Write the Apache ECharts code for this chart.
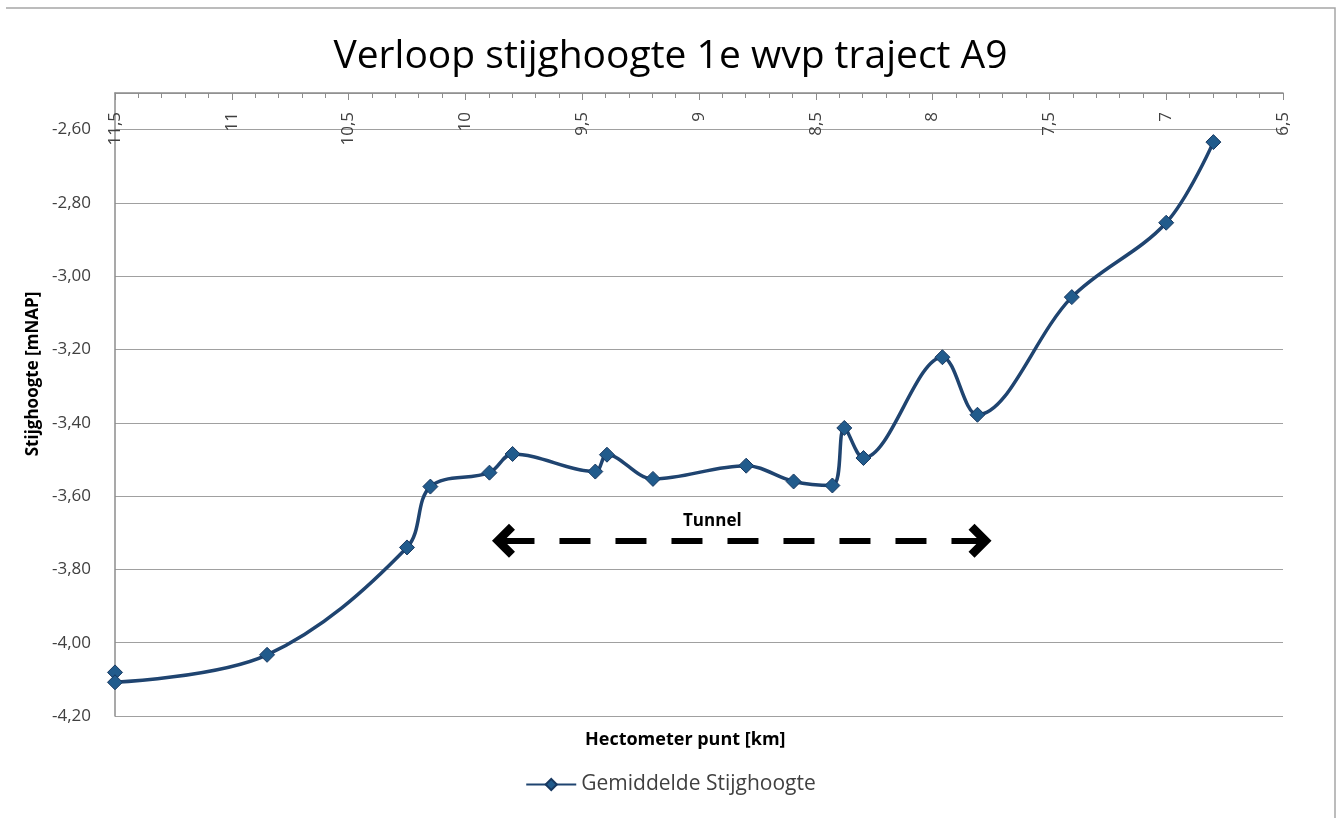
<!DOCTYPE html>
<html>
<head>
    <meta http-equiv="Content-Type" content="text/html; charset=UTF-8">
    <script type="text/javascript" src="https://cdn.jsdelivr.net/npm/echarts@6/dist/echarts.min.js" charset="utf-8"></script>
    <style>
        html, body { margin: 0; padding: 0; background: #fff; }
    </style>
</head>
<body>
<div id="main" style="width: 1341px;height:818px;"></div>
<script>
    // hectometer (km) en gemiddelde stijghoogte (mNAP)
    var hectometer = [11.5, 11.5, 10.849, 10.25, 10.15, 9.897, 9.798, 9.444, 9.394, 9.197,
        8.798, 8.595, 8.429, 8.378, 8.296, 7.958, 7.808, 7.404, 7.0, 6.798];
    var stijghoogte = [-4.081, -4.108, -4.033, -3.740, -3.574, -3.536, -3.485, -3.533, -3.487, -3.553,
        -3.517, -3.560, -3.571, -3.414, -3.496, -3.221, -3.378, -3.057, -2.854, -2.634];
    var tunnelVan = [9.837, -3.722];
    var tunnelTot = [7.797, -3.722];
    var tunnelLabel = [8.943, -3.668];

    var punten = [];
    for (var i = 0; i < hectometer.length; i++) {
        punten.push([hectometer[i], stijghoogte[i]]);
    }

    var font = "'Open Sans', 'DejaVu Sans', sans-serif";
    // pijlpunt (wijst naar boven, echarts draait hem mee met de lijn)
    var pijl = 'path://M17,0 L34,17 L28,23 L17,12 L6,23 L0,17 Z';

    var myChart = echarts.init(document.getElementById('main'));
    myChart.setOption({
        animation: false,
        title: [{
            text: 'Verloop stijghoogte 1e wvp traject A9',
            left: 'center',
            top: 32,
            textStyle: { fontFamily: font, fontSize: 39, fontWeight: 'normal', color: '#000' }
        }, {
            text: 'Hectometer punt [km]',
            left: 580,
            top: 726,
            textStyle: { fontFamily: font, fontSize: 18, fontWeight: 'bold', color: '#000' }
        }],
        graphic: [{
            type: 'text',
            x: 33,
            y: 374,
            rotation: Math.PI / 2,
            style: {
                text: 'Stijghoogte [mNAP]',
                font: 'bold 17px ' + font,
                fill: '#000',
                align: 'center',
                verticalAlign: 'middle'
            }
        }, {
            type: 'polyline',
            shape: { points: [[6, 8], [1335, 8], [1335, 818]] },
            style: { stroke: '#a6a6a6', lineWidth: 1.5, fill: null }
        }],
        legend: {
            bottom: 18,
            left: 'center',
            itemWidth: 50,
            itemHeight: 14,
            itemGap: 4,
            data: ['Gemiddelde Stijghoogte'],
            textStyle: { fontFamily: font, fontSize: 21, color: '#404040' }
        },
        grid: {
            left: 115,
            right: 58,
            top: 93,
            bottom: 102
        },
        xAxis: {
            type: 'value',
            position: 'top',
            inverse: true,
            min: 6.5,
            max: 11.5,
            interval: 0.5,
            axisLine: { lineStyle: { color: '#8c8c8c', width: 1.5 } },
            axisTick: { show: true, inside: true, length: 7, lineStyle: { color: '#8c8c8c' } },
            minorTick: { show: true, splitNumber: 5, length: 5, lineStyle: { color: '#8c8c8c' } },
            axisLabel: {
                inside: true,
                rotate: -90,
                margin: 19,
                align: 'right',
                verticalAlign: 'middle',
                fontFamily: font,
                fontSize: 17,
                color: '#404040',
                formatter: function (v) {
                    return v % 1 === 0 ? String(v) : v.toFixed(1).replace('.', ',');
                }
            },
            splitLine: { show: false }
        },
        yAxis: {
            type: 'value',
            min: -4.2,
            max: -2.5,
            interval: 0.2,
            axisLine: { show: true, lineStyle: { color: '#8c8c8c', width: 1.5 } },
            axisTick: { show: false },
            axisLabel: {
                margin: 24,
                showMaxLabel: false,
                fontFamily: font,
                fontSize: 17,
                color: '#404040',
                formatter: function (v) {
                    return v.toFixed(2).replace('.', ',');
                }
            },
            splitLine: { lineStyle: { color: '#a0a0a0', width: 1.2 } }
        },
        series: [{
            name: 'Gemiddelde Stijghoogte',
            type: 'line',
            data: punten,
            smooth: 0.35,
            symbol: 'diamond',
            symbolSize: 15,
            lineStyle: { color: '#1f4470', width: 3.5 },
            itemStyle: { color: '#215b8c', borderColor: '#183860', borderWidth: 1 },
            markLine: {
                silent: true,
                symbol: [pijl, pijl],
                symbolSize: [34, 23],
                label: { show: false },
                lineStyle: { color: '#000', width: 6, type: [31, 25] },
                data: [[{ coord: tunnelVan }, { coord: tunnelTot }]]
            },
            markPoint: {
                silent: true,
                symbol: 'circle',
                symbolSize: 0,
                label: {
                    show: true,
                    position: 'inside',
                    formatter: 'Tunnel',
                    fontFamily: font,
                    fontSize: 17,
                    fontWeight: 'bold',
                    color: '#000'
                },
                data: [{ coord: tunnelLabel }]
            }
        }]
    });
</script>
</body>
</html>
